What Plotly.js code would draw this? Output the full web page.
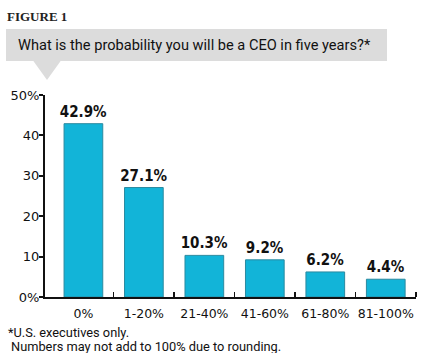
<!DOCTYPE html>
<html>
<head>
<meta charset="utf-8">
<script src="https://cdn.plot.ly/plotly-3.0.1.min.js"></script>
<style>html,body{margin:0;padding:0;background:#fff;}#chart{width:425px;height:353px;}</style>
</head>
<body>
<div id="chart"></div>
<script>
const categories = ["0%", "1-20%", "21-40%", "41-60%", "61-80%", "81-100%"];
const values = [42.9, 27.1, 10.3, 9.2, 6.2, 4.4];
const yTickVals = [0, 10, 20, 30, 40, 50];
const yTickText = ["0%", "10", "20", "30", "40", "50%"];
const figureLabel = "FIGURE 1";
const question = "What is the probability you will be a CEO in five years?*";
const note1 = "*U.S. executives only.";
const note2 = "Numbers may not add to 100% due to rounding.";

const idx = categories.map((c, i) => i);
const bounds = categories.map((c, i) => i + 0.5);

// pixel -> paper helpers (plot area 45..416 x, 95..297 y)
const L = 45, R = 416, T = 95, B = 297;
const px = v => (v - L) / (R - L);
const py = v => (B - v) / (B - T);

const trace = {
  type: "bar",
  x: idx,
  y: values,
  width: 0.64,
  marker: {color: "#12b4d8", line: {color: "#2a8aa0", width: 1}},
  text: values.map(v => v.toFixed(1) + "%"),
  textposition: "outside",
  constraintext: "none",
  textfont: {family: "DejaVu Sans Condensed, DejaVu Sans", size: 15, weight: "bold", color: "#111"},
  cliponaxis: false,
  hoverinfo: "none"
};

const layout = {
  width: 425, height: 353,
  margin: {l: L, r: 425 - R, t: T, b: 353 - B},
  paper_bgcolor: "#fff", plot_bgcolor: "#fff",
  showlegend: false,
  font: {family: "DejaVu Sans", color: "#111"},
  xaxis: {
    range: [-0.635, 5.5],
    tickmode: "array", tickvals: idx, ticktext: categories,
    ticks: "", showgrid: false, zeroline: false,
    showline: true, linecolor: "#111", linewidth: 2,
    ticklabelstandoff: 4,
    tickfont: {family: "DejaVu Sans", size: 12.5, color: "#111"},
    minor: {tickmode: "array", tickvals: bounds, ticks: "inside", ticklen: 5, tickwidth: 1.5, tickcolor: "#111", showgrid: false}
  },
  yaxis: {
    range: [0, 50],
    tickmode: "array", tickvals: yTickVals, ticktext: yTickText,
    ticks: "outside", ticklen: 4, tickwidth: 2, tickcolor: "#111",
    showgrid: false, zeroline: false,
    showline: true, linecolor: "#111", linewidth: 2,
    ticklabelstandoff: -3,
    tickfont: {family: "DejaVu Sans", size: 13, color: "#111"}
  },
  shapes: [
    {type: "rect", xref: "paper", yref: "paper", x0: px(6), x1: px(387), y0: py(61), y1: py(29),
     fillcolor: "#dcdcdc", line: {width: 0}, layer: "below"},
    {type: "path", xref: "paper", yref: "paper",
     path: `M ${px(33)},${py(60.5)} L ${px(61)},${py(60.5)} L ${px(47)},${py(80)} Z`,
     fillcolor: "#dcdcdc", line: {width: 0}, layer: "below"}
  ],
  annotations: [
    {text: "<b>" + figureLabel + "</b>", xref: "paper", yref: "paper", x: px(5), y: py(16),
     xanchor: "left", yanchor: "middle", showarrow: false,
     font: {family: "Liberation Serif", size: 13, color: "#222"}},
    {text: question, xref: "paper", yref: "paper", x: px(16), y: py(45),
     xanchor: "left", yanchor: "middle", showarrow: false,
     font: {family: "Roboto", size: 14.6, color: "#111"}},
    {text: note1, xref: "paper", yref: "paper", x: px(6), y: py(332),
     xanchor: "left", yanchor: "middle", showarrow: false,
     font: {family: "Roboto", size: 12.8, color: "#111"}},
    {text: note2, xref: "paper", yref: "paper", x: px(9), y: py(346.5),
     xanchor: "left", yanchor: "middle", showarrow: false,
     font: {family: "Roboto", size: 12.8, color: "#111"}}
  ]
};

Plotly.newPlot("chart", [trace], layout, {staticPlot: true, displayModeBar: false});
</script>
</body>
</html>
